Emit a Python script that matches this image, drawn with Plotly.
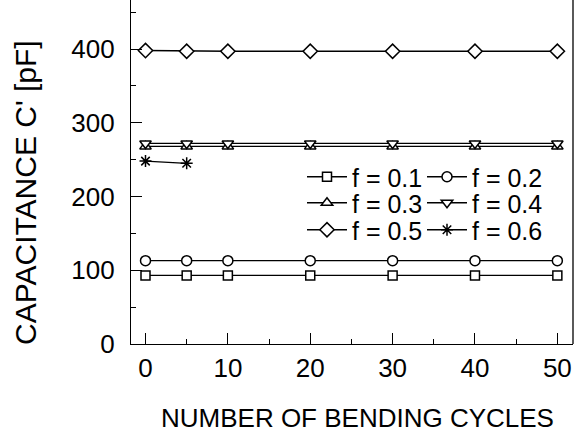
import plotly.graph_objects as go

cycles = [0, 5, 10, 20, 30, 40, 50]
f01 = [93, 93, 93, 93, 93, 93, 93]
f02 = [113, 113, 113, 113, 113, 113, 113]
f03 = [268, 268, 268, 268, 268, 268, 268]
f04 = [272, 272, 272, 272, 272, 272, 272]
f05 = [398, 397, 397, 397, 397, 397, 397]
f06_x = [0, 5]
f06 = [248, 245]

labels = ["f = 0.1", "f = 0.2", "f = 0.3", "f = 0.4", "f = 0.5", "f = 0.6"]
symbols = ["square", "circle", "triangle-up", "triangle-down", "diamond", "asterisk-open"]
fills = ["white", "white", "white", "white", "white", "black"]
sizes = [9, 10, 10, 10, 11, 10]
series_x = [cycles, cycles, cycles, cycles, cycles, f06_x]
series_y = [f01, f02, f03, f04, f05, f06]

FONT = "Liberation Sans, Arial, sans-serif"

fig = go.Figure()
for i in range(6):
    fig.add_trace(go.Scatter(
        x=series_x[i], y=series_y[i], mode="lines+markers", name=labels[i],
        line=dict(color="black", width=1.3),
        marker=dict(symbol=symbols[i], size=sizes[i], color=fills[i],
                    line=dict(color="black", width=1.5)),
        legend="legend" if i == 0 else f"legend{i+1}",
    ))

H = 344.0
rows = [177, 203, 230]
cols = [302, 422]
legends = {}
for i in range(6):
    r, c = divmod(i, 2)
    key = "legend" if i == 0 else f"legend{i+1}"
    legends[key] = dict(
        x=(cols[c] - 131) / 442.0, xanchor="left",
        y=1 - rows[r] / H, yanchor="middle",
        bgcolor="rgba(0,0,0,0)", borderwidth=0,
        font=dict(family=FONT, size=25, color="black"),
        itemwidth=40,
    )

fig.update_layout(
    width=574, height=433,
    margin=dict(l=131, r=1, t=0, b=89),
    paper_bgcolor="white", plot_bgcolor="white",
    showlegend=True,
    **legends,
    xaxis=dict(
        range=[-1.76, 51.9], tickvals=[0, 10, 20, 30, 40, 50],
        ticks="inside", ticklen=11, tickwidth=1.3, tickcolor="black",
        minor=dict(tickvals=[5, 15, 25, 35, 45], ticks="inside", ticklen=5, tickwidth=1.3, tickcolor="black"),
        showline=True, linecolor="black", linewidth=1.3,
        showgrid=False, zeroline=False, automargin=False,
        tickfont=dict(family=FONT, size=26, color="black"),
        ticklabelstandoff=1,
    ),
    yaxis=dict(
        range=[0, 466.5], tickvals=[0, 100, 200, 300, 400],
        ticks="inside", ticklen=11, tickwidth=1.3, tickcolor="black",
        minor=dict(tickvals=[50, 150, 250, 350, 450], ticks="inside", ticklen=5, tickwidth=1.3, tickcolor="black"),
        showline=True, linecolor="black", linewidth=1.3,
        showgrid=False, zeroline=False, automargin=False,
        tickfont=dict(family=FONT, size=26, color="black"),
        ticklabelstandoff=10,
    ),
    annotations=[
        dict(text="NUMBER OF BENDING CYCLES", xref="paper", yref="paper",
             x=(357.5 - 131) / 442.0, y=0, xanchor="center", yanchor="middle",
             yshift=-74, showarrow=False,
             font=dict(family=FONT, size=26, color="black")),
        dict(text="CAPACITANCE C' [pF]", xref="paper", yref="paper",
             x=0, y=1 - 193 / H, xanchor="center", yanchor="middle",
             xshift=-106, textangle=-90, showarrow=False,
             font=dict(family=FONT, size=30, color="black")),
    ],
    shapes=[dict(type="line", xref="paper", yref="paper", x0=1, x1=1, y0=0, y1=1,
                 line=dict(color="black", width=1.3))],
)

fig.write_html("out.html", config={"displayModeBar": False},
               post_script="document.body.style.margin='0';")
